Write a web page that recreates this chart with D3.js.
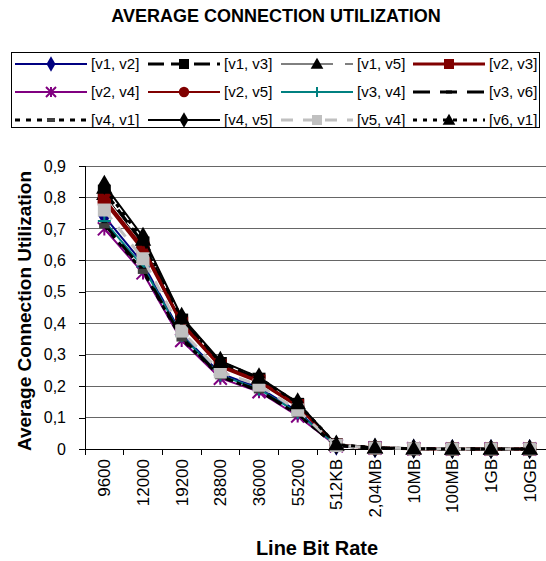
<!DOCTYPE html>
<html>
<head>
<meta charset="utf-8">
<script src="https://cdn.jsdelivr.net/npm/d3@7"></script>
<style>
  body { margin: 0; background: #fff; }
  svg { display: block; font-family: Arial, "Liberation Sans", sans-serif; }
</style>
</head>
<body>
<svg id="chart" width="546" height="561"></svg>
<script>
const categories = ["9600", "12000", "19200", "28800", "36000", "55200", "512KB", "2,04MB", "10MB", "100MB", "1GB", "10GB"]
const yTicks = [0, 0.1, 0.2, 0.3, 0.4, 0.5, 0.6, 0.7, 0.8, 0.9]

// one array per connection
const v1v2 = [0.740, 0.590, 0.365, 0.240, 0.195, 0.120, 0.011, 0.003, 0.001, 0, 0, 0]
const v1v3 = [0.820, 0.655, 0.410, 0.272, 0.222, 0.142, 0.013, 0.004, 0.001, 0, 0, 0]
const v1v5 = [0.810, 0.650, 0.405, 0.270, 0.220, 0.140, 0.013, 0.004, 0.001, 0, 0, 0]
const v2v3 = [0.795, 0.640, 0.400, 0.265, 0.216, 0.138, 0.012, 0.003, 0.001, 0, 0, 0]
const v2v4 = [0.700, 0.560, 0.345, 0.225, 0.182, 0.105, 0.010, 0.003, 0.001, 0, 0, 0]
const v2v5 = [0.785, 0.630, 0.395, 0.260, 0.212, 0.135, 0.012, 0.003, 0.001, 0, 0, 0]
const v3v4 = [0.725, 0.580, 0.360, 0.235, 0.190, 0.116, 0.011, 0.003, 0.001, 0, 0, 0]
const v3v6 = [0.715, 0.570, 0.355, 0.232, 0.186, 0.112, 0.010, 0.003, 0.001, 0, 0, 0]
const v4v1 = [0.710, 0.565, 0.350, 0.230, 0.185, 0.110, 0.010, 0.003, 0.001, 0, 0, 0]
const v4v5 = [0.840, 0.675, 0.420, 0.280, 0.228, 0.148, 0.014, 0.004, 0.001, 0, 0, 0]
const v5v4 = [0.760, 0.605, 0.375, 0.245, 0.203, 0.124, 0.011, 0.003, 0.001, 0, 0, 0]
const v6v1 = [0.830, 0.665, 0.415, 0.276, 0.226, 0.145, 0.014, 0.004, 0.001, 0, 0, 0]

const series = [
    {name: "[v1, v2]", values: v1v2, color: "#000080", width: 2, dash: null, marker: "diamond", mfill: "#000080"},
    {name: "[v1, v3]", values: v1v3, color: "#000000", width: 3, dash: "16,7", marker: "square", mfill: "#000000"},
    {name: "[v1, v5]", values: v1v5, color: "#000000", width: 1, dash: "52,12", marker: "triangle", mfill: "#000000"},
    {name: "[v2, v3]", values: v2v3, color: "#800000", width: 3, dash: null, marker: "square", mfill: "#800000"},
    {name: "[v2, v4]", values: v2v4, color: "#800080", width: 2, dash: null, marker: "star", mfill: "#800080"},
    {name: "[v2, v5]", values: v2v5, color: "#800000", width: 2, dash: null, marker: "circle", mfill: "#800000"},
    {name: "[v3, v4]", values: v3v4, color: "#008080", width: 2, dash: null, marker: "plus", mfill: "#008080"},
    {name: "[v3, v6]", values: v3v6, color: "#000000", width: 3, dash: "17,10", marker: "dash", mfill: "#000000"},
    {name: "[v4, v1]", values: v4v1, color: "#000000", width: 3, dash: "5,6", marker: "bar", mfill: "#404040"},
    {name: "[v4, v5]", values: v4v5, color: "#000000", width: 2, dash: null, marker: "diamond", mfill: "#000000"},
    {name: "[v5, v4]", values: v5v4, color: "#c0c0c0", width: 3, dash: "12,10", marker: "square", mfill: "#c0c0c0"},
    {name: "[v6, v1]", values: v6v1, color: "#000000", width: 3, dash: "4,6", marker: "triangle", mfill: "#000000"}
]

const svg = d3.select("#chart")
const margin = {left: 85, right: 549, top: 166, bottom: 449}

const x = d3.scaleBand().domain(categories).range([margin.left, margin.right])
const y = d3.scaleLinear().domain([0, 0.9]).range([margin.bottom, margin.top])

const fmt = d => d === 0 ? "0" : d3.format(".1f")(d).replace(".", ",")

// title
svg.append("text")
    .attr("x", 276).attr("y", 22)
    .attr("text-anchor", "middle")
    .style("font-size", "18px").style("font-weight", "bold")
    .text("AVERAGE CONNECTION UTILIZATION")

// gridlines
svg.append("g")
    .selectAll("line")
    .data(yTicks.filter(d => d > 0))
    .join("line")
    .attr("x1", margin.left).attr("x2", margin.right)
    .attr("y1", d => y(d)).attr("y2", d => y(d))
    .attr("stroke", "#666").attr("stroke-width", 1)
    .attr("shape-rendering", "crispEdges")

// y axis
const yAxis = svg.append("g")
    .attr("transform", `translate(${margin.left},0)`)
    .call(d3.axisLeft(y).tickValues(yTicks).tickFormat(fmt).tickSize(6).tickPadding(13))
yAxis.select(".domain").attr("stroke", "#000").attr("shape-rendering", "crispEdges")
yAxis.selectAll(".tick line").attr("stroke", "#000").attr("shape-rendering", "crispEdges")
yAxis.selectAll("text").style("font-size", "16px").attr("fill", "#000").attr("font-family", null)

// x axis: labels in band centres, ticks on band edges
const xAxis = svg.append("g")
    .attr("transform", `translate(0,${margin.bottom})`)
    .call(d3.axisBottom(x).tickSize(0).tickPadding(0))
xAxis.select(".domain").attr("stroke", "#000").attr("d", `M${margin.left},0H${margin.right}`)
    .attr("shape-rendering", "crispEdges")
xAxis.selectAll(".tick text")
    .attr("font-family", null)
    .style("font-size", "17px").attr("fill", "#000")
    .attr("transform", "rotate(-90)")
    .attr("text-anchor", "end")
    .attr("x", -10).attr("y", 0).attr("dy", "0.35em")
xAxis.append("g")
    .selectAll("line")
    .data(categories.map(c => x(c)).concat([margin.right]))
    .join("line")
    .attr("x1", d => d).attr("x2", d => d)
    .attr("y1", 0).attr("y2", 6)
    .attr("stroke", "#000").attr("shape-rendering", "crispEdges")

// axis titles
svg.append("text")
    .attr("x", 317).attr("y", 555)
    .attr("text-anchor", "middle")
    .style("font-size", "20px").style("font-weight", "bold")
    .text("Line Bit Rate")

svg.append("text")
    .attr("transform", "translate(31,311) rotate(-90)")
    .attr("text-anchor", "middle")
    .style("font-size", "19px").style("font-weight", "bold")
    .text("Average Connection Utilization")

// marker shapes
const drawMarker = (g, s, k) => {
    const sym = (type, size) => d3.symbol().type(type).size(size * k * k)()
    if (s.marker === "diamond") {
        g.append("path").attr("d", sym(d3.symbolDiamond, 70)).attr("fill", s.mfill)
    } else if (s.marker === "square") {
        g.append("path").attr("d", sym(d3.symbolSquare, 100)).attr("fill", s.mfill)
    } else if (s.marker === "triangle") {
        g.append("path").attr("d", sym(d3.symbolTriangle, 70)).attr("fill", s.mfill)
            .attr("transform", "translate(0,1)")
    } else if (s.marker === "circle") {
        g.append("path").attr("d", sym(d3.symbolCircle, 85)).attr("fill", s.mfill)
    } else if (s.marker === "star") {
        const r = 5 * k
        g.append("path")
            .attr("d", `M${-r},${-r}L${r},${r}M${-r},${r}L${r},${-r}M0,${-r}L0,${r}`)
            .attr("stroke", s.mfill).attr("stroke-width", 2).attr("fill", "none")
    } else if (s.marker === "plus") {
        const r = 5 * k
        g.append("path")
            .attr("d", `M${-r},0L${r},0M0,${-r}L0,${r}`)
            .attr("stroke", s.mfill).attr("stroke-width", 2).attr("fill", "none")
    } else if (s.marker === "dash") {
        g.append("rect").attr("x", -3 * k).attr("y", -1.5 * k)
            .attr("width", 6 * k).attr("height", 3 * k).attr("fill", s.mfill)
    } else if (s.marker === "bar") {
        g.append("rect").attr("x", -4 * k).attr("y", -2 * k)
            .attr("width", 8 * k).attr("height", 4 * k).attr("fill", s.mfill)
    }
}

// series lines and markers
const line = d3.line()
    .x((d, i) => x(categories[i]) + x.bandwidth() / 2)
    .y(d => y(d))

const plot = svg.append("g")
series.forEach(s => {
    const g = plot.append("g")
    g.append("path")
        .datum(s.values)
        .attr("d", line)
        .attr("fill", "none")
        .attr("stroke", s.color)
        .attr("stroke-width", s.width)
        .attr("stroke-dasharray", s.dash)
    s.values.forEach((v, i) => {
        const m = g.append("g")
            .attr("transform", `translate(${x(categories[i]) + x.bandwidth() / 2},${y(v)})`)
        drawMarker(m, s, 1.3)
    })
})

// legend
const legend = svg.append("g")
legend.append("rect")
    .attr("x", 11.5).attr("y", 52.5).attr("width", 528).attr("height", 75)
    .attr("fill", "#fff").attr("stroke", "#000")

const colX = [15, 148, 281, 413]
const rowY = [64, 92, 120]
series.forEach((s, i) => {
    const cx = colX[i % 4]
    const cy = rowY[Math.floor(i / 4)]
    const g = legend.append("g")
    g.append("line")
        .attr("x1", cx).attr("x2", cx + 72)
        .attr("y1", cy).attr("y2", cy)
        .attr("stroke", s.color)
        .attr("stroke-width", s.width === 1 ? 1 : (s.width === 3 ? 3 : 2))
        .attr("stroke-dasharray", s.dash)
    drawMarker(g.append("g").attr("transform", `translate(${cx + 36},${cy})`), s, 1)
    g.append("text")
        .attr("x", cx + 76).attr("y", cy).attr("dy", "0.35em")
        .style("font-size", "15px")
        .text(s.name)
})
</script>
</body>
</html>
